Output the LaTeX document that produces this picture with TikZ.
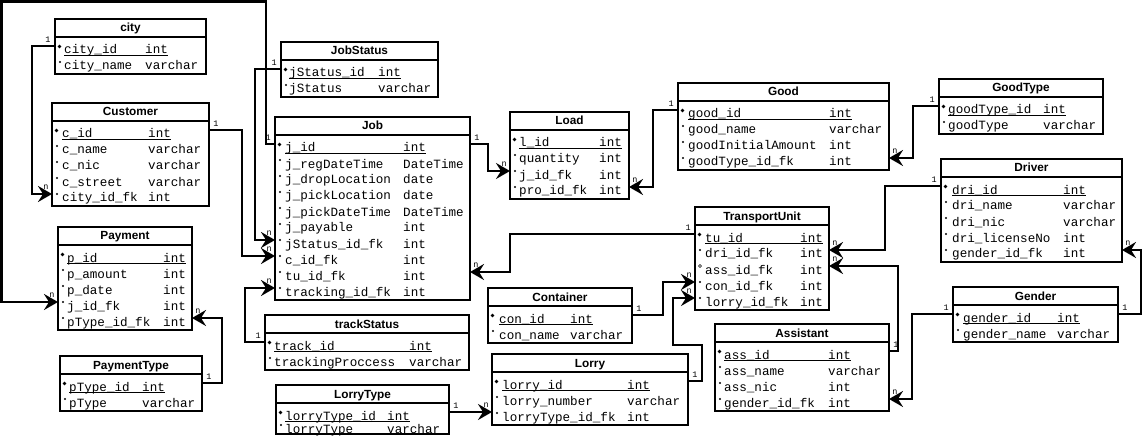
\documentclass[tikz,border=0pt]{standalone}
\usepackage{fontspec}
\setmainfont{Liberation Sans}
\newfontfamily\erMono{Liberation Mono}
\usetikzlibrary{arrows.meta}
\tikzset{
  tbox/.style={draw, line width=2.5pt, inner sep=0pt, outer sep=0pt, fill=white},
  ttitle/.style={font=\fontsize{11.8}{13}\selectfont\bfseries, anchor=base, inner sep=0pt},
  rowtxt/.style={font=\erMono\fontsize{12.6}{14}\selectfont, anchor=base west, inner sep=0pt},
  rowpt/.style={inner sep=0pt, outer sep=0pt, minimum height=8pt, anchor=west},
  sepline/.style={line width=2.5pt},
  ulline/.style={line width=1pt},
  conn/.style={line width=2.8pt, -{Stealth[length=14pt,width=16pt,inset=5pt]}},
  lbl/.style={font=\erMono\fontsize{8.5}{9}\selectfont, inner sep=0pt},
  l1L/.style={lbl, anchor=south east, xshift=-3pt, yshift=2pt},
  l1R/.style={lbl, anchor=south west, xshift=3pt, yshift=2pt},
  lnL/.style={lbl, anchor=south east, xshift=-2pt, yshift=3pt},
  lnR/.style={lbl, anchor=south west, xshift=2pt, yshift=3pt},
}
\def\rowstep{16}
% #1 id, #2 title, #3 left, #4 right, #5 top, #6 name x, #7 type x, #8 rows
\newcommand\tablebox[8]{%
  \pgfmathsetmacro\hb{#5+18}%
  \foreach \rn/\rt/\rk [count=\i] in {#8} {\xdef\nrows{\i}}%
  \pgfmathsetmacro\tbbot{\hb+\rowstep*\nrows+5}%
  \node[tbox, anchor=north west, minimum width={(#4-#3)*1pt}, minimum height={(\tbbot-#5)*1pt}] (#1) at (#3,#5) {};
  \node[ttitle] (#1-title) at ({(#3+#4)/2},{#5+13}) {#2};
  \draw[sepline] (#3,\hb) -- (#4,\hb);
  \foreach \rn/\rt/\rk [count=\i] in {#8} {
    \pgfmathsetmacro\ry{\hb+13+\rowstep*(\i-1)}
    \node[rowpt, minimum width={(#4-#3)*1pt}] (#1-\i) at (#3,\ry-4) {};
    \node[rowtxt] (#1-n\i) at (#6,\ry+4) {\rn};
    \node[rowtxt] (#1-t\i) at (#7,\ry+4) {\rt};
    \if\rk P
      \fill (#3+4.5,\ry-3.5) circle (1.8pt);
      \coordinate (ul) at (#6,\ry+5.5);
      \draw[ulline] (ul) -- (ul -| #1-t\i.east);
    \fi
    \if\rk F
      \fill (#3+5,\ry-4) circle (1.1pt);
    \fi
    \if\rk O
      \draw[line width=0.6pt] (#3+5,\ry-4) circle (1.5pt);
    \fi
  }%
}
\begin{document}
\begin{tikzpicture}[x=1pt,y=-1pt]
\fill[white] (0,0) rectangle (1144,441);
\useasboundingbox (0,0) rectangle (1144,441);

\tablebox{city}{city}{55}{206}{19}{64}{145}{city\_id/int/P, city\_name/varchar/F}
\tablebox{cust}{Customer}{52}{209}{103}{62}{148}{c\_id/int/P, c\_name/varchar/F, c\_nic/varchar/F, c\_street/varchar/F, city\_id\_fk/int/F}
\tablebox{pay}{Payment}{58}{192}{227}{67}{163}{p\_id/int/P, p\_amount/int/F, p\_date/int/F, j\_id\_fk/int/F, pType\_id\_fk/int/F}
\tablebox{ptype}{PaymentType}{60}{202}{356}{69}{142}{pType\_id/int/P, pType/varchar/F}
\tablebox{jstat}{JobStatus}{281}{438}{42}{289}{378}{jStatus\_id/int/P, jStatus/varchar/F}
\tablebox{job}{Job}{275}{470}{117}{285}{403}{j\_id/int/P, j\_regDateTime/DateTime/F, j\_dropLocation/date/F, j\_pickLocation/date/F, j\_pickDateTime/DateTime/F, j\_payable/int/F, jStatus\_id\_fk/int/F, c\_id\_fk/int/F, tu\_id\_fk/int/F, tracking\_id\_fk/int/F}
\tablebox{track}{trackStatus}{265}{469}{315}{274}{409}{track\_id/int/P, trackingProccess/varchar/F}
\def\rowstep{13}
\tablebox{ltype}{LorryType}{276}{449}{385}{285}{387}{lorryType\_id/int/P, lorryType/varchar/F}
\def\rowstep{16}
\tablebox{load}{Load}{510}{629}{112}{519}{599}{l\_id/int/P, quantity/int/F, j\_id\_fk/int/F, pro\_id\_fk/int/F}
\tablebox{good}{Good}{678}{889}{83}{688}{829}{good\_id/int/P, good\_name/varchar/F, goodInitialAmount/int/F, goodType\_id\_fk/int/F}
\tablebox{gtype}{GoodType}{939}{1103}{79}{948}{1043}{goodType\_id/int/P, goodType/varchar/F}
\tablebox{drv}{Driver}{941}{1122}{159}{952}{1063}{dri\_id/int/P, dri\_name/varchar/F, dri\_nic/varchar/F, dri\_licenseNo/int/F, gender\_id\_fk/int/F}
\tablebox{gen}{Gender}{953}{1118}{287}{963}{1057}{gender\_id/int/P, gender\_name/varchar/F}
\tablebox{tu}{TransportUnit}{695}{829}{207}{705}{800}{tu\_id/int/P, dri\_id\_fk/int/F, ass\_id\_fk/int/O, con\_id\_fk/int/F, lorry\_id\_fk/int/F}
\tablebox{asst}{Assistant}{715}{889}{324}{724}{828}{ass\_id/int/P, ass\_name/varchar/F, ass\_nic/int/F, gender\_id\_fk/int/F}
\tablebox{cont}{Container}{488}{632}{288}{499}{570}{con\_id/int/P, con\_name/varchar/F}
\tablebox{lorry}{Lorry}{492}{688}{354}{502}{627}{lorry\_id/int/P, lorry\_number/varchar/F, lorryType\_id\_fk/int/F}

\coordinate (corner) at (1.4,1.4);

\draw[conn] (city-1.west) node[l1L]{1} -- ++(-23,0) |- (cust-5.west) node[lnL]{n};
\draw[conn] (cust-1.east) node[l1R]{1} -- ++(33,0) |- (job-8.west) node[lnL]{n};
\draw[conn] (jstat-1.west) node[l1L]{1} -- ++(-26,0) |- (job-7.west) node[lnL]{n};
\draw[conn] (job-1.west) node[l1L]{1} -- ++(-9,0) |- (corner) |- (pay-4.west) node[lnL]{n};
\draw[conn] (job-1.east) node[l1R]{1} -- ++(18,0) |- (load-3.west) node[lnL]{n};
\draw[conn] (good-1.west) node[l1L]{1} -- ++(-25,0) |- (load-4.east) node[lnR]{n};
\draw[conn] (gtype-1.west) node[l1L]{1} -- ++(-26,0) |- (good-4.east) node[lnR]{n};
\draw[conn] (drv-1.west) node[l1L]{1} -- ++(-56,0) |- (tu-2.east) node[lnR]{n};
\draw[conn] (gen-1.east) node[l1R]{1} -- ++(23,0) |- (drv-5.east) node[lnR]{n};
\draw[conn] (gen-1.west) node[l1L]{1} -- ++(-41,0) |- (asst-4.east) node[lnR]{n};
\draw[conn] (asst-1.east) node[l1R]{1} -- ++(9,0) |- (tu-3.east) node[lnR]{n};
\draw[conn] (tu-1.west) node[l1L]{1} -- ++(-185,0) |- (job-9.east) node[lnR]{n};
\draw[conn] (cont-1.east) node[l1R]{1} -- ++(31,0) |- (tu-4.west) node[lnL]{n};
\draw[conn] (lorry-1.east) node[l1R]{1} -- ++(14,0) |- ++(-29,-36) |- (tu-5.west) node[lnL]{n};
\draw[conn] (ltype-1.east) node[l1R]{1} -- (ltype-1.east -| lorry-3.west) node[lnL]{n};
\draw[conn] (track-1.west) node[l1L]{1} -- ++(-20,0) |- (job-10.west) node[lnL]{n};
\draw[conn] (ptype-1.east) node[l1R]{1} -- ++(20,0) |- (pay-5.east) node[lnR]{n};
\end{tikzpicture}
\end{document}
